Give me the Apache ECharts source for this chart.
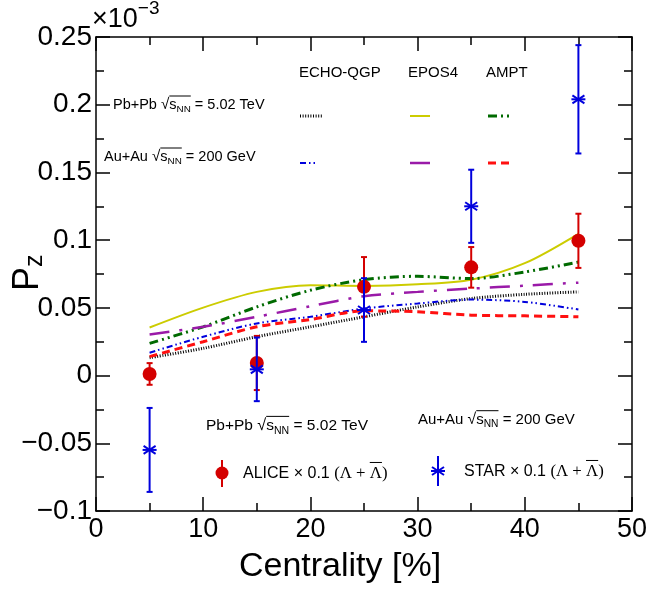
<!DOCTYPE html>
<html>
<head>
<meta charset="utf-8">
<script src="https://cdn.jsdelivr.net/npm/echarts@6/dist/echarts.min.js"></script>
<style>html,body{margin:0;padding:0;background:#fff}#c{width:662px;height:592px}</style>
</head>
<body>
<div id="c"></div>
<script>
// ---- data (P_z in units of 1e-3) ----
const centrality = [5, 15, 25, 35, 45];
const aliceVal = [0.0012, 0.0093, 0.0655, 0.0799, 0.0995];
const aliceErr = [0.008, 0.020, 0.022, 0.015, 0.020];
const starVal = [-0.0549, 0.0046, 0.0484, 0.125, 0.204];
const starErr = [0.031, 0.0235, 0.0235, 0.027, 0.040];

const curveX = [5, 10, 15, 20, 25, 30, 35, 40, 45];
const echoPbPb = [0.0132, 0.0201, 0.0287, 0.0360, 0.0434, 0.0507, 0.0569, 0.0600, 0.0618];
const eposPbPb = [0.0355, 0.0502, 0.0618, 0.0667, 0.0662, 0.0674, 0.0708, 0.0830, 0.1047];
const amptPbPb = [0.0238, 0.0360, 0.0507, 0.0630, 0.0708, 0.0733, 0.0716, 0.0765, 0.0838];
const echoAuAu = [0.0169, 0.0287, 0.0385, 0.0434, 0.0495, 0.0532, 0.0561, 0.0544, 0.0488];
const eposAuAu = [0.0304, 0.0360, 0.0434, 0.0512, 0.0586, 0.0618, 0.0642, 0.0664, 0.0686];
const amptAuAu = [0.0140, 0.0250, 0.0360, 0.0414, 0.0478, 0.0471, 0.0446, 0.0441, 0.0434];

const xTicks = [0, 10, 20, 30, 40, 50];
const yTickLabels = {'-0.1': '\u22120.1', '-0.05': '\u22120.05', '0': '0', '0.05': '0.05', '0.1': '0.1', '0.15': '0.15', '0.2': '0.2', '0.25': '0.25'};

// ---- styles ----
const FONT = "'Liberation Sans', Arial, Helvetica, sans-serif";
const SERIF = "'Liberation Serif', 'Times New Roman', serif";
const C = {
  red: '#d40000', blue: '#0000dd', yellow: '#cccc00', green: '#006a00',
  purple: '#9a1aa8', black: '#000000', ampt2: '#ff1010'
};
const styles = {
  echoPbPb: {color: C.black, width: 3, type: [1, 1.6]},
  eposPbPb: {color: C.yellow, width: 2, type: 'solid'},
  amptPbPb: {color: C.green, width: 3, type: [9, 4, 2, 4, 2, 4]},
  echoAuAu: {color: C.blue, width: 2, type: [6, 3, 1.5, 3, 1.5, 3]},
  eposAuAu: {color: C.purple, width: 2.5, type: [20, 10, 3, 10]},
  amptAuAu: {color: C.ampt2, width: 3, type: [8, 5]}
};

const pairs = (xs, ys) => xs.map((x, i) => [x, ys[i]]);

const cv = document.createElement('canvas').getContext('2d');
function tw(t, size, fam) { cv.font = size + 'px ' + (fam || FONT); return cv.measureText(t).width; }

// tokens: {t, size, dy, fam, over}
function textRow(x, cy, tokens, color) {
  const els = [];
  let cx = x;
  tokens.forEach(tk => {
    const fam = tk.fam || FONT;
    const w = tw(tk.t, tk.size, fam);
    els.push({type: 'text', x: cx, y: cy + (tk.dy || 0), silent: true,
      style: {text: tk.t, font: tk.size + 'px ' + fam, fill: color || '#000', align: 'left', verticalAlign: 'middle'}});
    if (tk.over) {
      els.push({type: 'line', silent: true, shape: {x1: cx + (tk.overPad || 0), y1: cy + tk.overY, x2: cx + w + (tk.overExt || 0), y2: cy + tk.overY},
        style: {stroke: color || '#000', lineWidth: 1}});
    }
    cx += w;
  });
  return els;
}
function sqrtRow(x, cy, prefix, suffix, size) {
  return textRow(x, cy, [
    {t: prefix, size: size},
    {t: '\u221A', size: size * 1.05},
    {t: 's', size: size, over: true, overY: -size * 0.62, overExt: tw('NN', size * 0.68)},
    {t: 'NN', size: size * 0.68, dy: size * 0.3},
    {t: suffix, size: size}
  ]);
}

const graphics = [];
// exponent label
graphics.push(...textRow(92, 20, [{t: '\u00D710', size: 27}, {t: '\u22123', size: 19, dy: -11}]));
// axis titles
graphics.push({type: 'text', x: 340, y: 567, silent: true,
  style: {text: 'Centrality [%]', font: '34px ' + FONT, fill: '#000', align: 'center', verticalAlign: 'middle'}});
graphics.push({type: 'group', x: 28, y: 291, rotation: Math.PI / 2, silent: true, children: [
  {type: 'text', x: 0, y: 0, style: {text: 'P', font: '36px ' + FONT, fill: '#000', align: 'left', verticalAlign: 'middle'}},
  {type: 'text', x: tw('P', 36), y: 7, style: {text: 'z', font: '25px ' + FONT, fill: '#000', align: 'left', verticalAlign: 'middle'}}
]});
// model legend
graphics.push({type: 'text', x: 299, y: 73, silent: true, style: {text: 'ECHO-QGP', font: '15px ' + FONT, fill: '#000', verticalAlign: 'middle'}});
graphics.push({type: 'text', x: 408, y: 73, silent: true, style: {text: 'EPOS4', font: '15px ' + FONT, fill: '#000', verticalAlign: 'middle'}});
graphics.push({type: 'text', x: 486, y: 73, silent: true, style: {text: 'AMPT', font: '15px ' + FONT, fill: '#000', verticalAlign: 'middle'}});
graphics.push(...sqrtRow(113, 105, 'Pb+Pb ', ' = 5.02 TeV', 14.5));
graphics.push(...sqrtRow(104, 157, 'Au+Au ', ' = 200 GeV', 14.5));
function sample(x1, x2, y, s) {
  return {type: 'line', silent: true, shape: {x1: x1, y1: y, x2: x2, y2: y},
    style: {stroke: s.color, lineWidth: s.width, lineDash: s.type === 'solid' ? null : s.type}};
}
graphics.push(sample(300, 322, 116, styles.echoPbPb));
graphics.push(sample(410, 430, 116, styles.eposPbPb));
graphics.push(sample(488, 511, 116, styles.amptPbPb));
graphics.push(sample(300, 318, 163, styles.echoAuAu));
graphics.push(sample(410, 430, 163, styles.eposAuAu));
graphics.push(sample(488, 511, 163, styles.amptAuAu));
// data legend
graphics.push(...sqrtRow(206, 426, 'Pb+Pb ', ' = 5.02 TeV', 15.5));
graphics.push(...sqrtRow(418, 420, 'Au+Au ', ' = 200 GeV', 15));
function lamTokens(name, size) {
  return [
    {t: name + ' ', size: size},
    {t: '\u00D7 ', size: size},
    {t: '0.1 ', size: size},
    {t: '(\u039B + ', size: size * 1.05, fam: SERIF},
    {t: '\u039B', size: size * 1.05, fam: SERIF, over: true, overY: -size * 0.72},
    {t: ')', size: size * 1.05, fam: SERIF}
  ];
}
graphics.push(...textRow(243, 474, lamTokens('ALICE', 16)));
graphics.push(...textRow(464, 472, lamTokens('STAR', 16)));
// legend markers
graphics.push({type: 'line', silent: true, shape: {x1: 222, y1: 460, x2: 222, y2: 487}, style: {stroke: C.red, lineWidth: 2}});
graphics.push({type: 'circle', silent: true, shape: {cx: 222, cy: 473, r: 6.5}, style: {fill: C.red}});
graphics.push({type: 'line', silent: true, shape: {x1: 438, y1: 456, x2: 438, y2: 486}, style: {stroke: C.blue, lineWidth: 2}});
graphics.push({type: 'polyline', silent: true, shape: {points: [[432, 467], [444, 475]]}, style: {stroke: C.blue, lineWidth: 2}});
graphics.push({type: 'polyline', silent: true, shape: {points: [[432, 475], [444, 467]]}, style: {stroke: C.blue, lineWidth: 2}});
graphics.push({type: 'polyline', silent: true, shape: {points: [[431, 471], [445, 471]]}, style: {stroke: C.blue, lineWidth: 2}});

function errSeries(name, vals, errs, color, marker) {
  return {
    name: name, type: 'custom', z: 10, clip: true,
    data: centrality.map((x, i) => [x, vals[i], errs[i]]),
    renderItem: function (params, api) {
      const x = api.value(0), y = api.value(1), e = api.value(2);
      const p = api.coord([x, y]), t = api.coord([x, y + e]), b = api.coord([x, y - e]);
      const ls = {stroke: color, lineWidth: 2};
      const ch = [
        {type: 'line', shape: {x1: p[0], y1: t[1], x2: p[0], y2: b[1]}, style: ls},
        {type: 'line', shape: {x1: p[0] - 3, y1: t[1], x2: p[0] + 3, y2: t[1]}, style: ls},
        {type: 'line', shape: {x1: p[0] - 3, y1: b[1], x2: p[0] + 3, y2: b[1]}, style: ls}
      ];
      if (marker === 'circle') {
        ch.push({type: 'circle', shape: {cx: p[0], cy: p[1], r: 7}, style: {fill: color}});
      } else {
        ch.push({type: 'line', shape: {x1: p[0] - 6, y1: p[1] - 4, x2: p[0] + 6, y2: p[1] + 4}, style: ls});
        ch.push({type: 'line', shape: {x1: p[0] - 6, y1: p[1] + 4, x2: p[0] + 6, y2: p[1] - 4}, style: ls});
        ch.push({type: 'line', shape: {x1: p[0] - 7, y1: p[1], x2: p[0] + 7, y2: p[1]}, style: ls});
      }
      return {type: 'group', children: ch};
    }
  };
}
function curve(name, ys, s) {
  return {name: name, type: 'line', data: pairs(curveX, ys), smooth: 0.3, showSymbol: false, symbol: 'none',
    lineStyle: {color: s.color, width: s.width, type: s.type}, z: 3, silent: true};
}

const axisCommon = {
  axisLine: {show: true, onZero: false, lineStyle: {color: '#000', width: 1.5}},
  axisTick: {show: true, inside: true, length: 14, lineStyle: {color: '#000', width: 1.5}},
  minorTick: {show: true, splitNumber: 2, length: 8, lineStyle: {color: '#000', width: 1.5}},
  splitLine: {show: false}
};
const xBase = Object.assign({type: 'value', min: xTicks[0], max: xTicks[xTicks.length - 1], interval: 10}, axisCommon);
const yBase = Object.assign({type: 'value', min: -0.1, max: 0.25, interval: 0.05}, axisCommon);

const chart = echarts.init(document.getElementById('c'), null, {renderer: 'canvas'});
chart.setOption({
  animation: false,
  backgroundColor: '#fff',
  grid: {left: 96, top: 37, width: 536, height: 474, show: false},
  xAxis: [
    Object.assign({}, xBase, {position: 'bottom', axisLabel: {show: true, fontSize: 27, fontFamily: FONT, color: '#000', margin: 5,
      formatter: v => String(Math.round(v))}}),
    Object.assign({}, xBase, {position: 'top', axisLabel: {show: false}})
  ],
  yAxis: [
    Object.assign({}, yBase, {position: 'left', axisLabel: {show: true, fontSize: 28, fontFamily: FONT, color: '#000', margin: 4,
      formatter: v => { const k = String(Math.round(v * 1000) / 1000); return yTickLabels[k] !== undefined ? yTickLabels[k] : k; }}}),
    Object.assign({}, yBase, {position: 'right', axisLabel: {show: false}})
  ],
  series: [
    curve('ECHO-QGP Pb+Pb', echoPbPb, styles.echoPbPb),
    curve('EPOS4 Pb+Pb', eposPbPb, styles.eposPbPb),
    curve('AMPT Pb+Pb', amptPbPb, styles.amptPbPb),
    curve('ECHO-QGP Au+Au', echoAuAu, styles.echoAuAu),
    curve('EPOS4 Au+Au', eposAuAu, styles.eposAuAu),
    curve('AMPT Au+Au', amptAuAu, styles.amptAuAu),
    errSeries('ALICE', aliceVal, aliceErr, C.red, 'circle'),
    errSeries('STAR', starVal, starErr, C.blue, 'star')
  ],
  graphic: graphics
});
</script>
</body>
</html>
